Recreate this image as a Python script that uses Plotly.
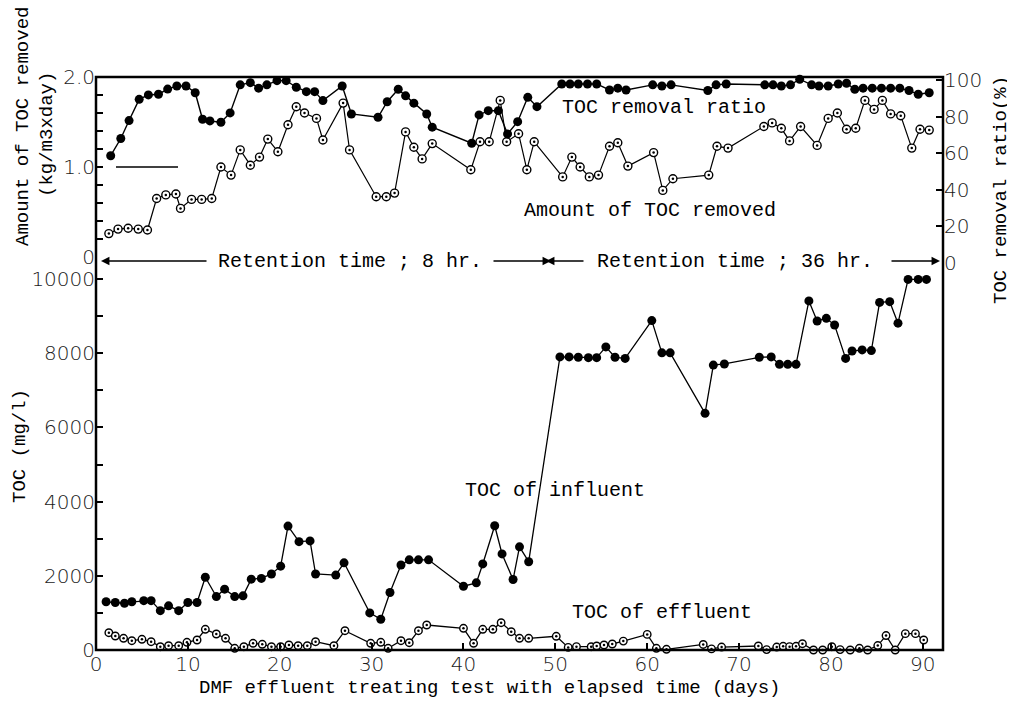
import plotly.graph_objects as go

# ---------------- data ----------------
# TOC removal ratio (%), filled circles, top panel (right axis)
ratio_day = [1.6, 2.7, 3.6, 4.7, 5.7, 6.8, 7.8, 8.8, 9.8, 10.8, 11.6, 12.4, 13.6, 14.6,
             15.7, 16.8, 17.7, 18.6, 19.7, 20.7, 21.8, 22.9, 23.8, 24.7, 26.8, 27.8,
             30.7, 31.7, 32.9, 33.7, 34.6, 36.0, 36.6, 40.9, 41.7, 42.7, 43.8, 44.8,
             45.9, 47.0, 48.0, 50.7, 51.6, 52.5, 53.5, 54.5, 55.9, 56.8, 57.7, 60.6,
             61.6, 62.6, 66.6, 67.5, 68.6, 72.8, 73.7, 74.6, 75.6, 76.6, 77.9, 78.7,
             79.7, 80.8, 81.7, 82.6, 83.5, 84.5, 85.5, 86.5, 87.5, 88.5, 89.5, 90.7]
ratio_pct = [58.6, 68, 77.8, 89.4, 91.8, 92.2, 95, 96.7, 96.7, 93, 78.5, 77.6, 76.9, 82,
             97.3, 98.5, 95.5, 97.3, 99.6, 99.6, 96, 93.6, 93.6, 88.7, 96.7, 81.4,
             79.6, 88.1, 94.9, 91.3, 87.3, 81.4, 74.2, 65.4, 80.9, 83.2, 83.2, 70.5,
             77.2, 90.5, 85.4, 97.8, 97.8, 97.8, 97.8, 97.8, 94.5, 95.5, 94.5, 97.3,
             96.7, 97.3, 94.2, 97.3, 97.8, 97.3, 97.3, 96.7, 97.3, 100.4, 97.3, 96.7,
             96.7, 97.8, 98.2, 94.9, 95.5, 95.5, 95.5, 95.5, 95.5, 94.2, 92.2, 93.0]

# Amount of TOC removed (kg/m3xday), open circles, top panel (left axis)
amount_day = [1.4, 2.4, 3.5, 4.6, 5.6, 6.6, 7.6, 8.7, 9.2, 10.4, 11.5, 12.6, 13.6, 14.7,
              15.7, 16.8, 17.8, 18.7, 19.8, 20.9, 21.8, 22.7, 24.0, 24.7, 26.9, 27.6,
              30.5, 31.6, 32.5, 33.7, 34.6, 35.5, 36.6, 40.8, 41.8, 42.8, 44.0, 44.7,
              46.0, 46.9, 47.7, 50.8, 51.8, 52.7, 53.7, 54.7, 55.9, 56.8, 57.9, 60.7,
              61.7, 62.8, 66.7, 67.6, 68.8, 72.7, 73.6, 74.6, 75.5, 76.7, 78.5, 79.7,
              80.7, 81.7, 82.7, 83.7, 84.7, 85.6, 86.5, 87.6, 88.8, 89.7, 90.7]
amount_val = [0.26, 0.31, 0.32, 0.31, 0.30, 0.65, 0.69, 0.70, 0.54, 0.64, 0.64, 0.65, 1.00,
              0.91, 1.19, 1.02, 1.11, 1.31, 1.17, 1.47, 1.67, 1.60, 1.54, 1.30, 1.71, 1.19,
              0.67, 0.67, 0.71, 1.39, 1.22, 1.09, 1.26, 0.97, 1.28, 1.28, 1.74, 1.28,
              1.37, 0.97, 1.28, 0.89, 1.11, 1.00, 0.89, 0.91, 1.23, 1.27, 1.01, 1.16,
              0.74, 0.87, 0.91, 1.23, 1.21, 1.45, 1.49, 1.43, 1.29, 1.45, 1.24, 1.54,
              1.60, 1.42, 1.43, 1.74, 1.64, 1.74, 1.59, 1.57, 1.21, 1.42, 1.41]

# TOC of influent (mg/l), filled circles, bottom panel
inf_day = [1.1, 2.1, 3.1, 3.9, 5.2, 6.0, 7.0, 7.9, 9.0, 10.0, 11.0, 11.9, 13.1, 14.0,
           15.1, 16.0, 16.9, 18.0, 19.1, 20.1, 20.9, 22.1, 23.3, 23.9, 26.1, 27.0,
           29.8, 31.0, 32.0, 33.2, 34.1, 35.1, 36.2, 40.0, 41.4, 42.1, 43.4, 44.2,
           45.4, 46.1, 47.1, 50.5, 51.5, 52.5, 53.6, 54.5, 55.5, 56.5, 57.6, 60.5,
           61.6, 62.5, 66.3, 67.2, 68.4, 72.2, 73.5, 74.4, 75.3, 76.2, 77.6, 78.5,
           79.5, 80.4, 81.6, 82.3, 83.4, 84.4, 85.3, 86.4, 87.3, 88.4, 89.5, 90.4]
inf_toc = [1300, 1280, 1260, 1300, 1330, 1330, 1060, 1190, 1060, 1280, 1280, 1960, 1440,
           1640, 1440, 1460, 1910, 1930, 2050, 2260, 3340, 2920, 2940, 2050, 2020, 2350,
           1000, 830, 1550, 2290, 2430, 2430, 2430, 1720, 1810, 2320, 3350, 2590, 1900,
           2780, 2380, 7900, 7900, 7890, 7880, 7880, 8170, 7890, 7860, 8880, 8010, 8010,
           6380, 7680, 7710, 7890, 7900, 7700, 7700, 7700, 9410, 8870, 8940, 8760, 7860,
           8060, 8090, 8070, 9370, 9390, 8810, 9990, 9990, 9990]

# TOC of effluent (mg/l), open circles, bottom panel
eff_day = [1.4, 2.1, 3.0, 3.9, 5.0, 6.0, 7.0, 7.9, 9.0, 9.9, 11.0, 11.9, 13.1, 14.1,
           15.1, 16.1, 17.1, 18.1, 19.1, 20.1, 21.0, 22.0, 23.0, 23.9, 25.9, 27.1,
           29.9, 31.0, 31.8, 33.2, 34.1, 35.1, 36.0, 40.0, 41.1, 42.1, 43.2, 44.1,
           45.2, 46.1, 47.1, 50.1, 51.4, 52.3, 53.9, 54.5, 55.3, 56.2, 57.4, 60.0,
           61.0, 62.1, 66.1, 67.0, 68.1, 72.1, 73.0, 74.1, 74.8, 75.5, 76.2, 76.9,
           78.1, 79.1, 80.1, 81.0, 82.1, 83.1, 84.0, 85.1, 86.0, 87.0, 88.1, 89.2, 90.1]
eff_toc = [466, 377, 315, 251, 288, 224, 89, 116, 116, 208, 270, 558, 431, 315,
           46, 89, 181, 154, 89, 89, 135, 116, 116, 224, 116, 520,
           181, 208, 46, 251, 197, 520, 674, 585, 181, 558, 558, 736,
           493, 315, 315, 370, 70, 90, 89, 108, 135, 162, 240, 420,
           46, 19, 150, 30, 80, 108, 10, 80, 100, 90, 100, 170,
           0, 0, 89, 10, 0, 46, 0, 120, 390, 0, 440, 440, 270]

x_ticks = [0, 10, 20, 30, 40, 50, 60, 70, 80, 90]
toc_ticks = [0, 2000, 4000, 6000, 8000, 10000]
toc_ticktext = ["0", "2000", "4000", "6000", "8000", "10000"]
amount_ticks = [0, 1, 2]
amount_ticktext = ["0", "1.0", "2.0"]
ratio_ticks = [0, 20, 40, 60, 80, 100]

# ---------------- layout helpers ----------------
# positions below are given in page pixels; the page body adds an 8 px offset
OFF = 8
W, H = 1015 - OFF, 713 - OFF
L, R, T, B = 96, 943, 77, 650          # plot frame in page pixels
PW, PH = R - L, B - T


def fx(px):
    return (px - L) / PW


def fy(py):
    return (B - py) / PH


MONO = "Liberation Mono"
TICKFONT = dict(family="DejaVu Sans", size=20, color="#1a1a1a", weight=200)

fig = go.Figure()

# bottom panel
fig.add_trace(go.Scatter(x=inf_day, y=inf_toc, mode="lines+markers", xaxis="x", yaxis="y",
                         line=dict(color="black", width=1.3),
                         marker=dict(symbol="circle", size=9, color="black"),
                         cliponaxis=False, showlegend=False))
fig.add_trace(go.Scatter(x=eff_day, y=eff_toc, mode="lines+markers", xaxis="x", yaxis="y",
                         line=dict(color="black", width=1.3),
                         marker=dict(symbol="circle", size=7.5, color="white",
                                     line=dict(color="black", width=1.4)),
                         cliponaxis=False, showlegend=False))
fig.add_trace(go.Scatter(x=eff_day, y=eff_toc, mode="markers", xaxis="x", yaxis="y",
                         marker=dict(symbol="circle", size=2.5, color="black"),
                         cliponaxis=False, showlegend=False, hoverinfo="skip"))

# top panel
fig.add_trace(go.Scatter(x=amount_day, y=amount_val, mode="lines+markers", xaxis="x", yaxis="y2",
                         line=dict(color="black", width=1.2),
                         marker=dict(symbol="circle", size=8, color="white",
                                     line=dict(color="black", width=1.4)),
                         cliponaxis=False, showlegend=False))
fig.add_trace(go.Scatter(x=amount_day, y=amount_val, mode="markers", xaxis="x", yaxis="y2",
                         marker=dict(symbol="circle", size=2.5, color="black"),
                         cliponaxis=False, showlegend=False, hoverinfo="skip"))
fig.add_trace(go.Scatter(x=ratio_day, y=ratio_pct, mode="lines+markers", xaxis="x", yaxis="y3",
                         line=dict(color="black", width=1.4),
                         marker=dict(symbol="circle", size=9, color="black"),
                         cliponaxis=False, showlegend=False))

axis_common = dict(showgrid=False, zeroline=False, showline=False, ticks="inside",
                   tickcolor="black", tickwidth=1.5, ticklen=7, tickfont=TICKFONT)
minor_common = dict(ticks="inside", ticklen=7, tickwidth=1.5, tickcolor="black")

fig.update_layout(
    width=W, height=H,
    margin=dict(l=L - OFF, r=W - (R - OFF), t=T - OFF, b=H - (B - OFF)),
    paper_bgcolor="white", plot_bgcolor="rgba(0,0,0,0)",
    xaxis=dict(domain=[0, 1], range=[0, 92.2], anchor="y",
               tickvals=x_ticks, **axis_common),
    yaxis=dict(domain=[0, 0.6798], range=[0, 10500], anchor="x",
               tickvals=toc_ticks, ticktext=toc_ticktext,
               minor=dict(dtick=1000, **minor_common), **axis_common),
    yaxis2=dict(domain=[fy(257), 1], range=[0, 2], anchor="x",
                tickvals=amount_ticks, ticktext=amount_ticktext,
                minor=dict(dtick=0.2, **minor_common), **axis_common),
    yaxis3=dict(domain=[fy(263), 1], range=[0, 101.6], anchor="x", side="right",
                tickvals=ratio_ticks, **axis_common),
)

# frame
fig.add_shape(type="rect", xref="paper", yref="paper", x0=0, x1=1, y0=0, y1=1,
              line=dict(color="black", width=2.5), layer="above")
# short stray reference line at 1.0
fig.add_shape(type="line", xref="paper", yref="paper", x0=fx(116), x1=fx(178),
              y0=fy(167), y1=fy(167), line=dict(color="black", width=1.5))


def label(text, px, py, size=20, angle=0, family=MONO):
    fig.add_annotation(text=text, x=fx(px), y=fy(py), xref="paper", yref="paper",
                       showarrow=False, textangle=angle, xanchor="center", yanchor="middle",
                       font=dict(family=family, size=size, color="black"))


label("TOC removal ratio", 664, 107)
label("Amount of TOC removed", 650, 210)
label("TOC of influent", 555, 490)
label("TOC of effluent", 662, 612)
label("Retention time ; 8 hr.", 350, 261)
label("Retention time ; 36 hr.", 735, 261)

label("Amount of TOC removed", 23, 127, size=19, angle=-90)
label("(kg/m3xday)", 47, 135, size=19, angle=-90)
label("TOC (mg/l)", 20, 446, size=19, angle=-90)
label("TOC removal ratio(%)", 1001, 190, size=19, angle=-90)
label("DMF effluent treating test with elapsed time (days)", 490, 688, size=19)


def arrow(head_px, tail_px, py):
    fig.add_annotation(text="", x=fx(head_px), y=fy(py), xref="paper", yref="paper",
                       showarrow=True, ax=tail_px - head_px, ay=0,
                       arrowhead=2, arrowsize=1.3, arrowwidth=1.3, arrowcolor="black")


arrow(101, 208, 261)
arrow(551, 492, 261)
arrow(546, 585, 261)
arrow(940, 890, 261)

fig.write_html("out.html")
